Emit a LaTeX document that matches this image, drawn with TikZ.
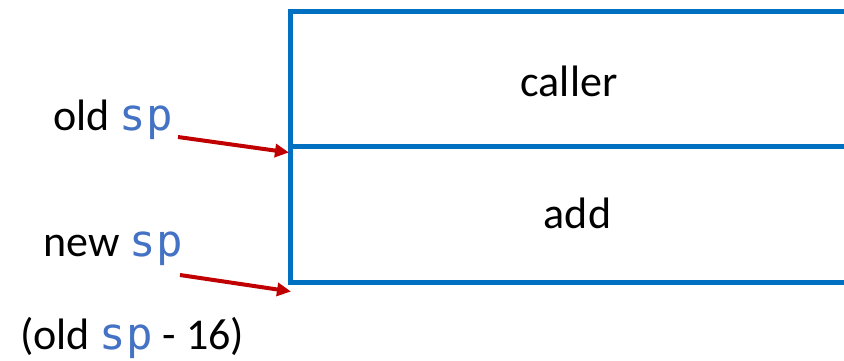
\documentclass[tikz,border=0pt]{standalone}
\usepackage{fontspec}
\setmainfont{Carlito}
\newfontfamily\monof{DejaVu Sans Mono}
\usetikzlibrary{arrows.meta}
\definecolor{boxblue}{HTML}{0070C0}
\definecolor{spblue}{HTML}{4472C4}
\definecolor{arrred}{HTML}{C00000}
\newcommand{\spx}{{\monof\color{spblue}sp}}
\tikzset{
  lbl/.style={anchor=base, inner sep=0pt, font=\fontsize{44}{50}\selectfont},
  frame/.style={draw=boxblue, line width=5pt, line join=miter},
  ptr/.style={draw=arrred, line width=4pt, -{Triangle[length=14pt,width=13pt]}}
}
\begin{document}
\begin{tikzpicture}[x=1pt,y=-1pt]
\useasboundingbox (0,0) rectangle (844,360);
% frame
\coordinate (tl) at (290,11.5);
\coordinate (ml) at (290,146.5);
\coordinate (bl) at (290,282.5);
\coordinate (tr) at (844,11.5);
\coordinate (mr) at (844,146.5);
\coordinate (br) at (844,282.5);
\draw[frame] (tr) -- (tl) -- (bl) -- (br);
\draw[frame] (ml) -- (mr);
% texts
\node[lbl] (caller) at (569,96.7) {caller};
\node[lbl] (add) at (577.5,228.3) {add};
\node[lbl] (oldsp) at (113,130.7) {old \spx};
\node[lbl] (newsp) at (113,256) {new \spx};
\node[lbl] (calc) at (132,349) {(old \spx\ - 16)};
% arrows
\coordinate (oldtail) at (178,137);
\coordinate (oldtip) at (289,152.5);
\coordinate (newtail) at (180,275);
\coordinate (newtip) at (291,291.5);
\draw[ptr] (oldtail) -- (oldtip);
\draw[ptr] (newtail) -- (newtip);
\end{tikzpicture}
\end{document}
